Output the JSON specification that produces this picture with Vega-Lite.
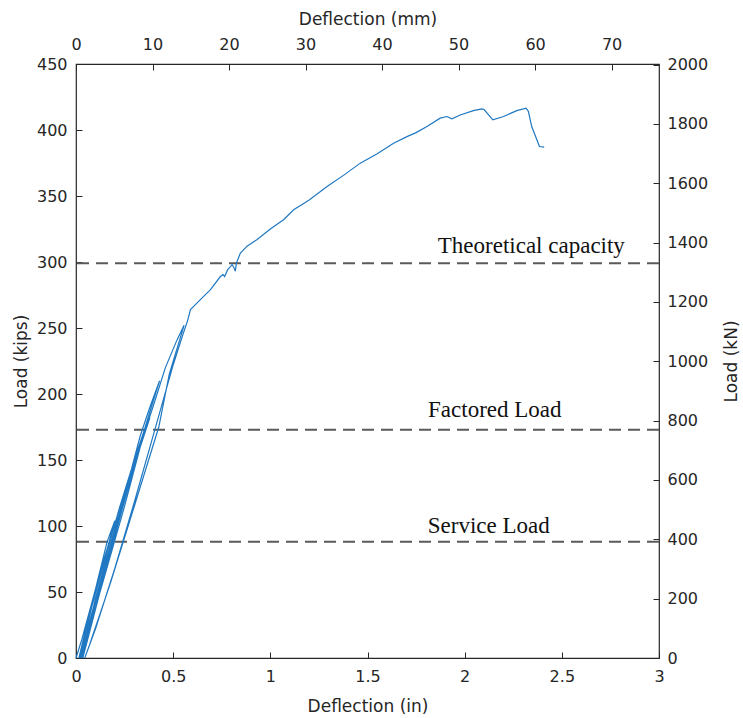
{
  "$schema": "https://vega.github.io/schema/vega-lite/v6.json",
  "autosize": {"type": "none"},
  "padding": {"left": 76, "top": 64, "right": 84, "bottom": 60},
  "width": 583,
  "height": 594,
  "background": "white",
  "config": {
    "view": {"stroke": "#262626", "strokeWidth": 1.2},
    "axis": {
      "domain": false,
      "grid": false,
      "tickSize": -6,
      "tickColor": "#262626",
      "tickWidth": 1,
      "labelFont": "DejaVu Sans",
      "labelFontSize": 16,
      "labelColor": "#262626",
      "titleFont": "DejaVu Sans",
      "titleFontSize": 17,
      "titleFontWeight": "normal",
      "titleColor": "#262626",
      "labelFlush": false,
      "labelOverlap": false,
      "labelBound": false
    }
  },
  "datasets": {
    "curve": [
      {"i": 1, "defl": 0, "load": 0},
      {"i": 2, "defl": 0.03, "load": 14},
      {"i": 3, "defl": 0.1, "load": 52},
      {"i": 4, "defl": 0.16, "load": 88},
      {"i": 5, "defl": 0.2, "load": 104},
      {"i": 6, "defl": 0.17, "load": 88},
      {"i": 7, "defl": 0.1, "load": 50},
      {"i": 8, "defl": 0.04, "load": 15},
      {"i": 9, "defl": 0.015, "load": 0},
      {"i": 9.1, "defl": 0.06, "load": 28},
      {"i": 9.2, "defl": 0.13, "load": 68},
      {"i": 9.3, "defl": 0.2, "load": 102},
      {"i": 9.4, "defl": 0.21, "load": 106},
      {"i": 9.5, "defl": 0.16, "load": 82},
      {"i": 9.6, "defl": 0.08, "load": 38},
      {"i": 9.7, "defl": 0.02, "load": 0},
      {"i": 10, "defl": 0.05, "load": 22},
      {"i": 11, "defl": 0.14, "load": 70},
      {"i": 12, "defl": 0.22, "load": 112},
      {"i": 13, "defl": 0.3, "load": 150},
      {"i": 14, "defl": 0.35, "load": 172},
      {"i": 15, "defl": 0.37, "load": 181},
      {"i": 16, "defl": 0.33, "load": 163},
      {"i": 17, "defl": 0.25, "load": 122},
      {"i": 18, "defl": 0.15, "load": 72},
      {"i": 19, "defl": 0.06, "load": 22},
      {"i": 20, "defl": 0.025, "load": 0},
      {"i": 20.1, "defl": 0.08, "load": 30},
      {"i": 20.2, "defl": 0.18, "load": 82},
      {"i": 20.3, "defl": 0.28, "load": 135},
      {"i": 20.4, "defl": 0.36, "load": 176},
      {"i": 20.5, "defl": 0.38, "load": 182},
      {"i": 20.6, "defl": 0.32, "load": 155},
      {"i": 20.7, "defl": 0.22, "load": 105},
      {"i": 20.8, "defl": 0.12, "load": 52},
      {"i": 20.9, "defl": 0.03, "load": 0},
      {"i": 21, "defl": 0.1, "load": 45},
      {"i": 22, "defl": 0.2, "load": 98},
      {"i": 23, "defl": 0.28, "load": 140},
      {"i": 24, "defl": 0.33, "load": 168},
      {"i": 25, "defl": 0.38, "load": 190},
      {"i": 26, "defl": 0.43, "load": 210},
      {"i": 27, "defl": 0.4, "load": 196},
      {"i": 28, "defl": 0.3, "load": 148},
      {"i": 29, "defl": 0.2, "load": 98},
      {"i": 30, "defl": 0.1, "load": 44},
      {"i": 31, "defl": 0.035, "load": 0},
      {"i": 32, "defl": 0.12, "load": 48},
      {"i": 33, "defl": 0.25, "load": 115},
      {"i": 34, "defl": 0.34, "load": 165},
      {"i": 35, "defl": 0.4, "load": 192},
      {"i": 36, "defl": 0.46, "load": 220},
      {"i": 37, "defl": 0.52, "load": 241},
      {"i": 38, "defl": 0.556, "load": 252},
      {"i": 39, "defl": 0.48, "load": 215},
      {"i": 40, "defl": 0.426, "load": 175},
      {"i": 41, "defl": 0.3, "load": 115},
      {"i": 42, "defl": 0.18, "load": 58},
      {"i": 43, "defl": 0.07, "load": 10},
      {"i": 44, "defl": 0.045, "load": 0},
      {"i": 45, "defl": 0.1, "load": 22},
      {"i": 46, "defl": 0.2, "load": 68},
      {"i": 47, "defl": 0.3, "load": 118},
      {"i": 48, "defl": 0.4, "load": 170},
      {"i": 49, "defl": 0.5, "load": 222},
      {"i": 50, "defl": 0.55, "load": 245},
      {"i": 51, "defl": 0.575, "load": 256},
      {"i": 52, "defl": 0.589, "load": 264},
      {"i": 53, "defl": 0.64, "load": 271.5},
      {"i": 54, "defl": 0.692, "load": 279},
      {"i": 55, "defl": 0.743, "load": 289},
      {"i": 56, "defl": 0.757, "load": 290.4},
      {"i": 57, "defl": 0.765, "load": 289},
      {"i": 58, "defl": 0.78, "load": 294},
      {"i": 59, "defl": 0.803, "load": 298},
      {"i": 60, "defl": 0.812, "load": 296},
      {"i": 61, "defl": 0.82, "load": 293},
      {"i": 62, "defl": 0.825, "load": 299},
      {"i": 63, "defl": 0.846, "load": 306.8},
      {"i": 64, "defl": 0.88, "load": 312},
      {"i": 65, "defl": 0.932, "load": 317},
      {"i": 66, "defl": 1.0, "load": 325},
      {"i": 67, "defl": 1.068, "load": 332},
      {"i": 68, "defl": 1.12, "load": 339.6},
      {"i": 69, "defl": 1.2, "load": 347},
      {"i": 70, "defl": 1.292, "load": 357.2},
      {"i": 71, "defl": 1.38, "load": 366},
      {"i": 72, "defl": 1.463, "load": 374.9},
      {"i": 73, "defl": 1.55, "load": 382},
      {"i": 74, "defl": 1.634, "load": 390},
      {"i": 75, "defl": 1.703, "load": 395},
      {"i": 76, "defl": 1.75, "load": 398},
      {"i": 77, "defl": 1.806, "load": 402.6},
      {"i": 78, "defl": 1.874, "load": 409},
      {"i": 79, "defl": 1.908, "load": 410.2},
      {"i": 80, "defl": 1.934, "load": 408.5},
      {"i": 81, "defl": 1.977, "load": 411.4},
      {"i": 82, "defl": 2.045, "load": 414.7},
      {"i": 83, "defl": 2.088, "load": 416},
      {"i": 84, "defl": 2.1, "load": 415.5},
      {"i": 85, "defl": 2.145, "load": 407.7},
      {"i": 86, "defl": 2.2, "load": 410.2},
      {"i": 87, "defl": 2.268, "load": 414.7},
      {"i": 88, "defl": 2.316, "load": 416.5},
      {"i": 89, "defl": 2.328, "load": 414},
      {"i": 90, "defl": 2.345, "load": 402.6},
      {"i": 91, "defl": 2.385, "load": 387.5},
      {"i": 92, "defl": 2.409, "load": 387}
    ],
    "levels": [
      {"label": "Theoretical capacity", "load": 299, "label_defl": 2.343, "label_load": 306.6},
      {"label": "Factored Load", "load": 173, "label_defl": 2.155, "label_load": 182.8},
      {"label": "Service Load", "load": 88, "label_defl": 2.124, "label_load": 94.9}
    ]
  },
  "layer": [
    {
      "data": {"name": "levels"},
      "mark": {"type": "rule", "color": "#5a5a5a", "strokeWidth": 2, "strokeDash": [12, 7]},
      "encoding": {
        "y": {
          "field": "load", "type": "quantitative",
          "scale": {"domain": [0, 450], "nice": false, "zero": false},
          "axis": {"orient": "left", "title": "Load (kips)", "values": [0, 50, 100, 150, 200, 250, 300, 350, 400, 450], "labelPadding": 15, "titlePadding": 6}
        }
      }
    },
    {
      "data": {"name": "curve"},
      "mark": {"type": "line", "color": "#1f78c1", "strokeWidth": 1.2, "interpolate": "linear"},
      "encoding": {
        "x": {
          "field": "defl", "type": "quantitative",
          "scale": {"domain": [0, 3], "nice": false, "zero": false},
          "axis": {"orient": "bottom", "title": "Deflection (in)", "values": [0, 0.5, 1, 1.5, 2, 2.5, 3], "format": "~g", "labelPadding": 16, "titlePadding": 14}
        },
        "y": {
          "field": "load", "type": "quantitative",
          "axis": {"orient": "right", "title": "Load (kN)", "titleAngle": 270, "values": [0, 44.9618, 89.9236, 134.8854, 179.8472, 224.809, 269.7708, 314.7326, 359.6944, 404.6562, 449.618], "labelExpr": "format(datum.value * 4.448222, '.0f')", "labelPadding": 14, "titlePadding": 33}
        },
        "order": {"field": "i", "type": "quantitative"}
      }
    },
    {
      "data": {"name": "levels"},
      "mark": {"type": "text", "font": "Liberation Serif", "fontSize": 23, "color": "#111111", "align": "center", "baseline": "alphabetic"},
      "encoding": {
        "x": {
          "field": "label_defl", "type": "quantitative",
          "axis": {"orient": "top", "title": "Deflection (mm)", "values": [0, 0.3937, 0.7874, 1.1811, 1.5748, 1.9685, 2.3622, 2.7559], "labelExpr": "format(datum.value * 25.4, '.0f')", "labelPadding": 18, "titlePadding": 8}
        },
        "y": {"field": "label_load", "type": "quantitative", "axis": null},
        "text": {"field": "label"}
      }
    }
  ],
  "resolve": {"axis": {"x": "independent", "y": "independent"}}
}
